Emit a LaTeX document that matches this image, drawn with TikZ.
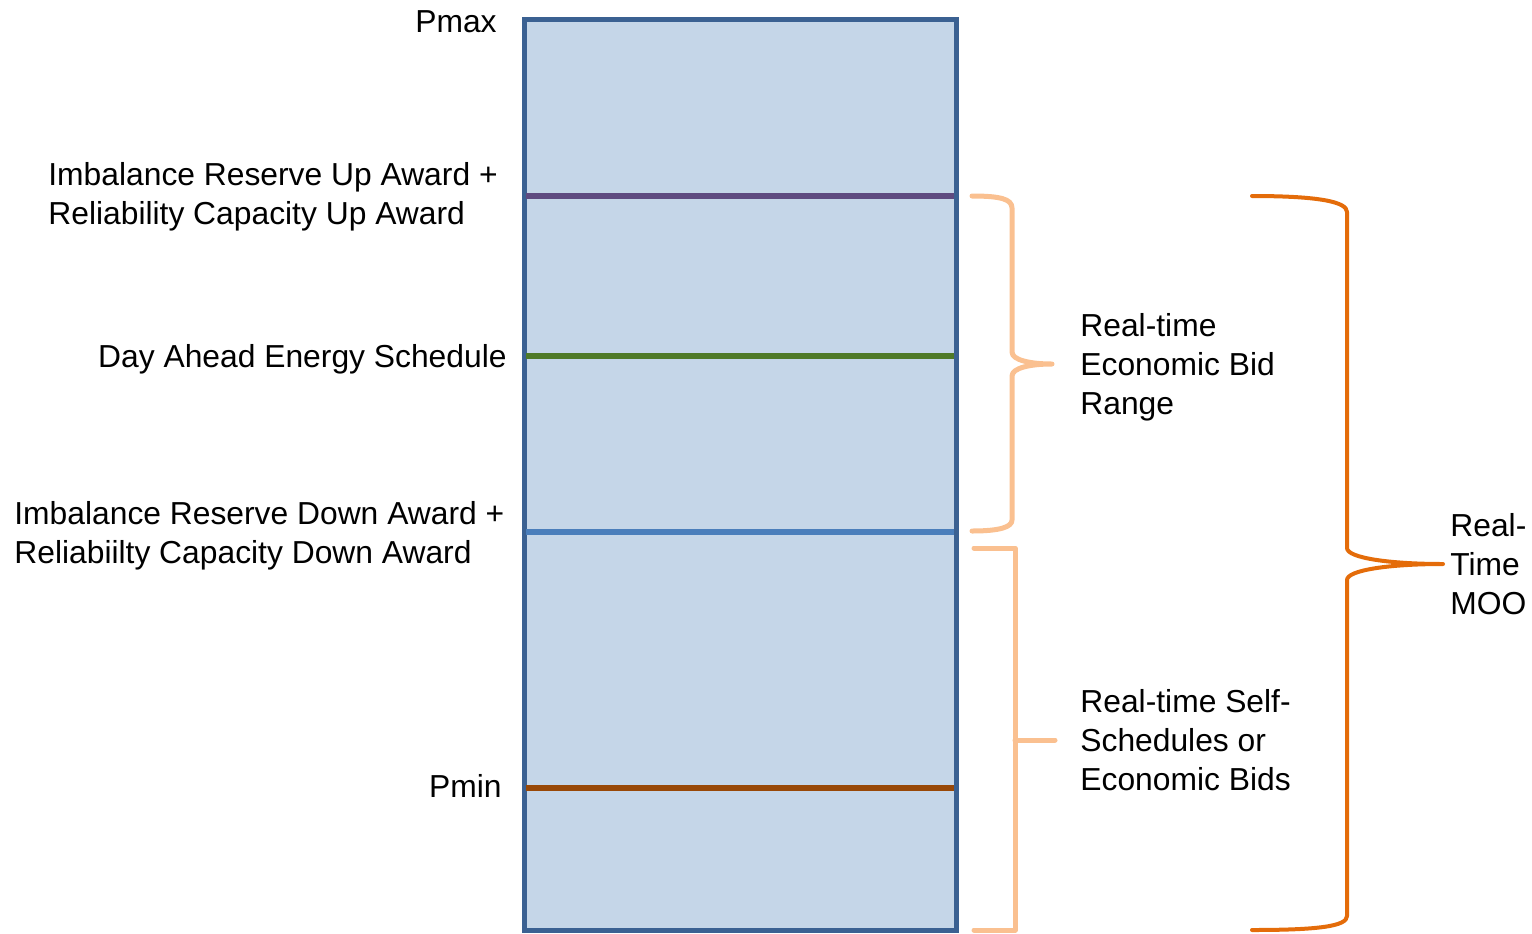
\documentclass[tikz,border=0pt]{standalone}
\usepackage{fontspec}
\setmainfont{Liberation Sans}
\begin{document}
\begin{tikzpicture}[x=0.5pt, y=-0.5pt, font=\fontsize{15.9}{19.5}\selectfont,
  lbl/.style = {inner sep=0pt, align=left},
  level/.style = {line width=3pt},
  brace/.style = {line width=2.5pt, line cap=round, line join=round}]
\useasboundingbox (0,0) rectangle (1532,933);
% unit block
\definecolor{boxfill}{HTML}{C5D6E8}
\definecolor{boxline}{HTML}{3B6192}
\filldraw[fill=boxfill, draw=boxline, line width=2.5pt] (524,19) rectangle (956,930);
% levels
\definecolor{col}{HTML}{5F4B80}
\draw[level, col] (526,196) -- (954,196);
\definecolor{col}{HTML}{4F7A28}
\draw[level, col] (526,356) -- (954,356);
\definecolor{col}{HTML}{4A7EBB}
\draw[level, col] (526,532) -- (954,532);
\definecolor{col}{HTML}{984807}
\draw[level, col] (526,788) -- (954,788);
% level labels
\node[lbl, anchor=east] (pmax) at (497,22) {Pmax};
\node[lbl, anchor=west] (irup) at (48,197) {Imbalance Reserve Up Award +\\Reliability Capacity Up Award};
\node[lbl, anchor=east] (daes) at (507,359) {Day Ahead Energy Schedule};
\node[lbl, anchor=west] (irdn) at (14,536) {Imbalance Reserve Down Award +\\Reliabiilty Capacity Down Award};
\node[lbl, anchor=east] (pmin) at (502,786) {Pmin};
% braces
\definecolor{col}{HTML}{FAC090}
\draw[brace, col] (972,196) .. controls (1000,196) and (1012,199) .. (1012,208) -- (1012,352)
  .. controls (1012,360) and (1030,364) .. (1052,364)
  .. controls (1030,364) and (1012,368) .. (1012,376) -- (1012,520)
  .. controls (1012,527) and (1000,531) .. (972,531);
\draw[brace, col] (974,548) -- (1015,548) -- (1015,930) -- (974,930) (1015,740) -- (1055,740);
\definecolor{col}{HTML}{E46C0A}
\draw[brace, line width=2pt, col] (1252,196) .. controls (1320,196) and (1347,202) .. (1347,212) -- (1347,548)
  .. controls (1347,558) and (1390,564) .. (1443,564)
  .. controls (1390,564) and (1347,570) .. (1347,580) -- (1347,916)
  .. controls (1347,926) and (1320,930) .. (1252,930);
% range labels
\node[lbl, anchor=west] (ebr) at (1080,367) {Real-time\\Economic Bid\\Range};
\node[lbl, anchor=west] (ssb) at (1080,740) {Real-time Self-\\Schedules or\\Economic Bids};
\node[lbl, anchor=west] (moo) at (1450,564) {Real-\\Time\\MOO};
\end{tikzpicture}
\end{document}
